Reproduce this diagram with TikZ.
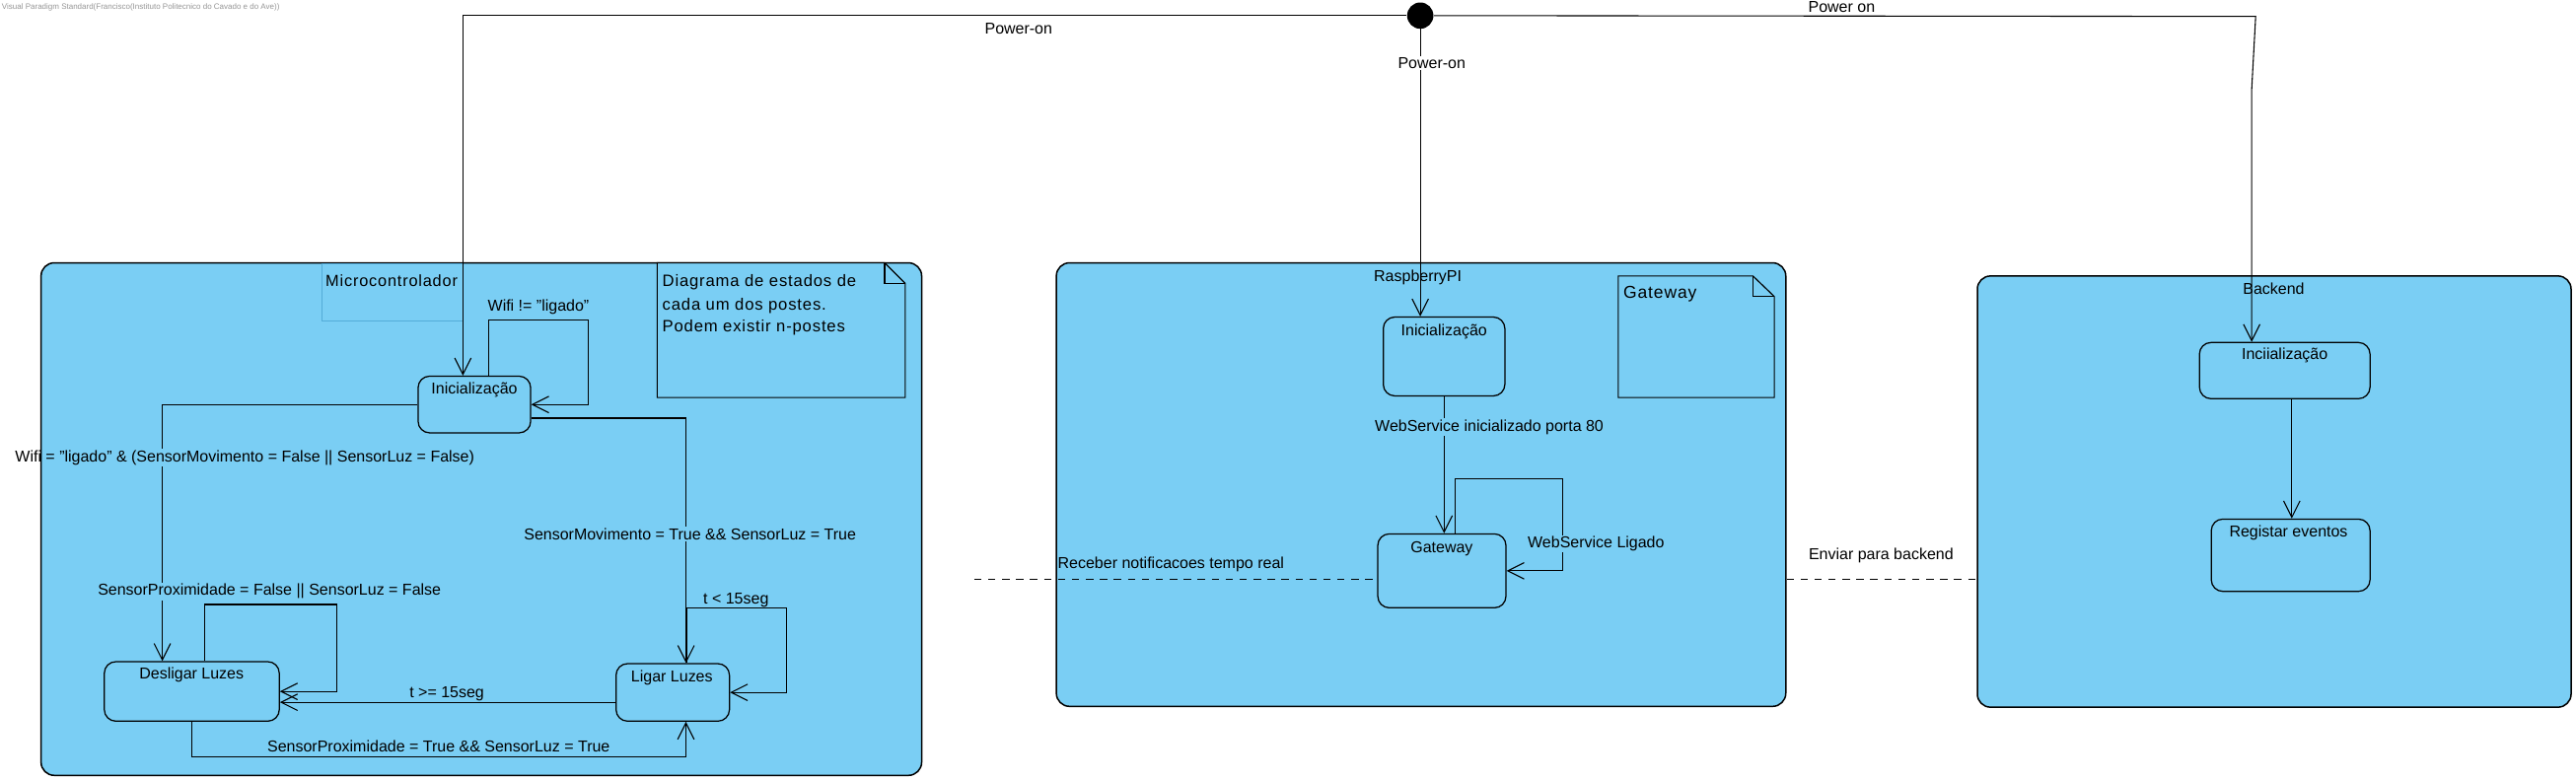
\documentclass[tikz,border=0pt]{standalone}
\usepackage{fontspec}
\setmainfont{Liberation Sans}
\newfontfamily\notefont[LetterSpace=5]{Liberation Sans}
\usetikzlibrary{arrows.meta,calc}
\definecolor{vpblue}{RGB}{122,206,244}
\definecolor{vpedge}{RGB}{84,172,216}
\definecolor{hdr}{RGB}{150,150,150}
\begin{document}
\begin{tikzpicture}[x=1pt,y=-1pt,
  container/.style={draw=black, fill=vpblue, line width=0.9pt, rounded corners=8pt, inner sep=0pt},
  statebox/.style={draw=black, fill=vpblue, line width=0.75pt, rounded corners=7pt, inner sep=0pt},
  tr/.style={draw=black, line width=0.65pt, -{Straight Barb[length=10pt,width=10pt]}},
  dsh/.style={draw=black, line width=0.8pt, dash pattern=on 4.5pt off 4pt},
  lbl/.style={font=\fontsize{9.6}{11}\selectfont, inner sep=0.8pt, anchor=base},
  notetxt/.style={font=\notefont\fontsize{10}{12}\selectfont, inner sep=0pt, anchor=base west},
  notebox/.style={draw=black, line width=0.7pt, fill=vpblue},
]
\useasboundingbox (0,0) rectangle (1568,475);
\fill[white] (0,0) rectangle (1568,475);

% header
\node[anchor=base west, font=\fontsize{4.8}{5}\selectfont, text=hdr, inner sep=0pt] (hd) at (1,5.5) {Visual Paradigm Standard(Francisco(Instituto Politecnico do Cavado e do Ave))};

% containers
\node[container, minimum width=536pt, minimum height=312pt] (mc) at (293,316) {};
\node[container, minimum width=444pt, minimum height=270pt] (rp) at (865,295) {};
\node[container, minimum width=361.4pt, minimum height=262.5pt] (be) at (1384.3,299.25) {};

\draw[vpedge, line width=0.5pt] (196,160.5) rectangle (282,195.5);
\node[notetxt, font=\notefont\fontsize{9.8}{12}\selectfont] (mclbl) at (198,174.5) {Microcontrolador};
\node[lbl] (rplbl) at (863,171.5) {RaspberryPI};
\node[lbl] (belbl) at (1384,179) {Backend};

% notes
\draw[notebox] (400,160) -- (538.5,160) -- (551,172.5) -- (551,242) -- (400,242) -- cycle;
\draw[line width=0.7pt] (538.5,160) |- (551,172.5);
\node[notetxt] (n1) at (403,174.5) {Diagrama de estados de};
\node[notetxt] (n2) at (403,188.5) {cada um dos postes.};
\node[notetxt] (n3) at (403,202) {Podem existir n-postes};

\draw[notebox] (985,168) -- (1067,168) -- (1080,180.5) -- (1080,242) -- (985,242) -- cycle;
\draw[line width=0.7pt] (1067,168) |- (1080,180.5);
\node[notetxt, font=\notefont\fontsize{10.5}{12}\selectfont] (n4) at (988,181.5) {Gateway};

% states
\node[statebox, minimum width=68.5pt, minimum height=34.5pt] (mi) at (288.75,246.25) {};
\node[statebox, minimum width=106.5pt, minimum height=36.2pt] (dl) at (116.75,420.9) {};
\node[statebox, minimum width=69pt, minimum height=35pt] (lg) at (409.5,421.5) {};
\node[statebox, minimum width=74pt, minimum height=48pt] (ri) at (879,217) {};
\node[statebox, minimum width=78pt, minimum height=45pt] (gw) at (877.65,347.5) {};
\node[statebox, minimum width=103.8pt, minimum height=34.2pt] (bi) at (1390.7,225.6) {};
\node[statebox, minimum width=96.6pt, minimum height=44pt] (rg) at (1394.3,338) {};

\node[lbl] at (288.75,240) {Inicialização};
\node[lbl] at (116.6,413.5) {Desligar Luzes};
\node[lbl] at (409,415) {Ligar Luzes};
\node[lbl] at (879,204.5) {Inicialização};
\node[lbl] at (877.6,336.5) {Gateway};
\node[lbl] at (1390.7,219) {Inciialização};
\node[lbl] at (1393,327) {Registar eventos};

% initial
\node[circle, fill=black, minimum size=16pt, inner sep=0pt] (dot) at (864.5,9.5) {};

% transitions
\draw[tr] (dot.west) -| ([xshift=-7pt]mi.north);
\draw[tr] (dot.south) -- (dot.south |- ri.north);
\coordinate (pc1) at (1373,10);
\coordinate (pc2) at (1370.6,54);
\draw[tr] (dot.east) -- (pc1) -- (pc2) -- ([xshift=-20.1pt]bi.north);

\draw[tr] ([xshift=8.75pt]mi.north) |- (358,195) |- (mi.east);
\draw[tr] (mi.west) -| ([xshift=-17.95pt]dl.north);
\draw[tr] ([yshift=-8.25pt]mi.east) -| ([xshift=8.1pt]lg.north);
\draw[tr] ([xshift=8.5pt]lg.north) |- (479,370) |- (lg.east);
\draw[tr] ([xshift=8pt]dl.north) |- (205,368) |- (dl.east);
\draw[tr] ($(lg.west)+(0,6)$) coordinate (tq) -- (tq -| dl.east);
\draw[tr] (dl.south) -- ++(0,21.5) -| ([xshift=8pt]lg.south);

\draw[tr] (ri.south) -- (ri.south |- gw.north);
\draw[tr] ([xshift=8.35pt]gw.north) |- (951,291.6) |- (gw.east);
\draw[tr] ($(bi.south)+(4.3,0)$) coordinate (bq) -- (bq |- rg.north);

\coordinate (rx) at (593,352.5);
\draw[dsh] (rx) -- (rx -| gw.west);
\draw[dsh] (rx -| rp.east) -- (rx -| be.west);

% labels
\node[lbl] at (620,20.5) {Power-on};
\node[lbl, fill=white] at (871.5,41.5) {Power-on};
\node[lbl] at (1121,7.5) {Power on};
\node[lbl] at (327.75,189.5) {Wifi != "ligado"};
\fill[vpblue] (95,273) rectangle (102.5,284);
\node[lbl] at (149,281.5) {Wifi = "ligado" \& (SensorMovimento = False || SensorLuz = False)};
\node[lbl, fill=vpblue] at (164,362.5) {SensorProximidade = False || SensorLuz = False};
\node[lbl, fill=vpblue] at (420,328.5) {SensorMovimento = True \&\& SensorLuz = True};
\node[lbl] at (448,367.5) {t < 15seg};
\node[lbl] at (272,424.5) {t >= 15seg};
\node[lbl] at (267,457.5) {SensorProximidade = True \&\& SensorLuz = True};
\node[lbl, fill=vpblue] at (906.5,262.5) {WebService inicializado porta 80};
\node[lbl, fill=vpblue] at (971.5,333.5) {WebService Ligado};
\node[lbl] at (712.75,346) {Receber notificacoes tempo real};
\node[lbl] at (1145,340.5) {Enviar para backend};
\end{tikzpicture}
\end{document}
